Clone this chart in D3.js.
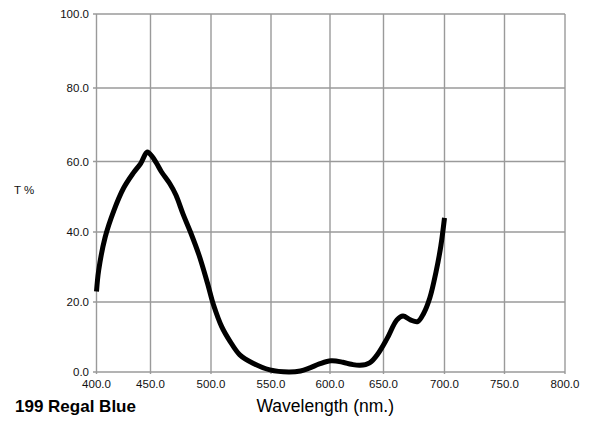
<!DOCTYPE html>
<html><head><meta charset="utf-8">
<script src="https://cdn.jsdelivr.net/npm/d3@7"></script>
<style>
html,body{margin:0;padding:0;background:#fff;}
svg{display:block;font-family:"Liberation Sans",Arial,Helvetica,sans-serif;}
</style></head>
<body>
<svg id="chart" width="595" height="422"></svg>
<script>
const xTicks = [400, 450, 500, 550, 600, 650, 700, 750, 800];
const yTicks = [0, 20, 40, 60, 80, 100];
const wavelengths = [400,402,408,416,425,434,441,447,451,455,459,466,471,477,483,490,497,502,509,516,524,535,549,565,575,583,591,601,612,620,628,637,645,653,661,666,672,678,683,688,693,697,700];
const transmission = [23,29,38.5,46,52.4,56.7,59.5,62.6,61.5,59.5,57.1,53.7,50.5,45,40,33.5,25.5,19.3,12.9,8.7,4.9,2.5,0.6,0,0.3,1.2,2.3,3.2,2.8,2.2,1.9,2.6,5.3,9.6,14.9,16,14.9,14.4,16.8,21.2,28.5,36,44];
const title = "199 Regal Blue";
const xTitle = "Wavelength (nm.)";
const yTitle = "T %";

const svg = d3.select("#chart");
// piecewise scales matching the reference grid positions
const x = d3.scaleLinear().domain(xTicks).range([96.5,150.5,211,271,330,383.5,444.5,504.5,565]);
const y = d3.scaleLinear().domain(yTicks).range([372,302,232,161.5,88,14]);

const grid = svg.append("g").attr("stroke","#9a9a9a").attr("stroke-width",1.4).attr("fill","none");
grid.selectAll("line.h").data(yTicks).enter().append("line")
  .attr("x1",93).attr("x2",x(800)).attr("y1",d=>y(d)).attr("y2",d=>y(d));
grid.selectAll("line.v").data(xTicks).enter().append("line")
  .attr("x1",d=>x(d)).attr("x2",d=>x(d)).attr("y1",y(100)).attr("y2",y(0)+2);

const fmt = d3.format(".1f");
svg.append("g").selectAll("text").data(yTicks).enter().append("text")
  .attr("x",89).attr("y",d=>y(d)+4.2).attr("text-anchor","end")
  .attr("font-size","11.5px").attr("fill","#111").text(d=>fmt(d));
svg.append("g").selectAll("text").data(xTicks).enter().append("text")
  .attr("x",d=>x(d)).attr("y",387.5).attr("text-anchor","middle")
  .attr("font-size","11.5px").attr("fill","#111").text(d=>fmt(d));

const pts = wavelengths.map((w,i)=>[w,transmission[i]]);
const line = d3.line().x(d=>x(d[0])).y(d=>y(d[1])).curve(d3.curveCatmullRom.alpha(0.5));
svg.append("path").datum(pts).attr("d",line)
  .attr("fill","none").attr("stroke","#000").attr("stroke-width",5)
  .attr("stroke-linejoin","round").attr("stroke-linecap","butt");

svg.append("text").attr("x",14).attr("y",194).attr("font-size","11.5px").attr("fill","#111").text(yTitle);
svg.append("text").attr("x",15).attr("y",411.7).attr("font-size","17px").attr("font-weight","bold").attr("fill","#000").text(title);
svg.append("text").attr("x",256.5).attr("y",411.7).attr("font-size","17.5px").attr("fill","#000").text(xTitle);
</script>
</body></html>
